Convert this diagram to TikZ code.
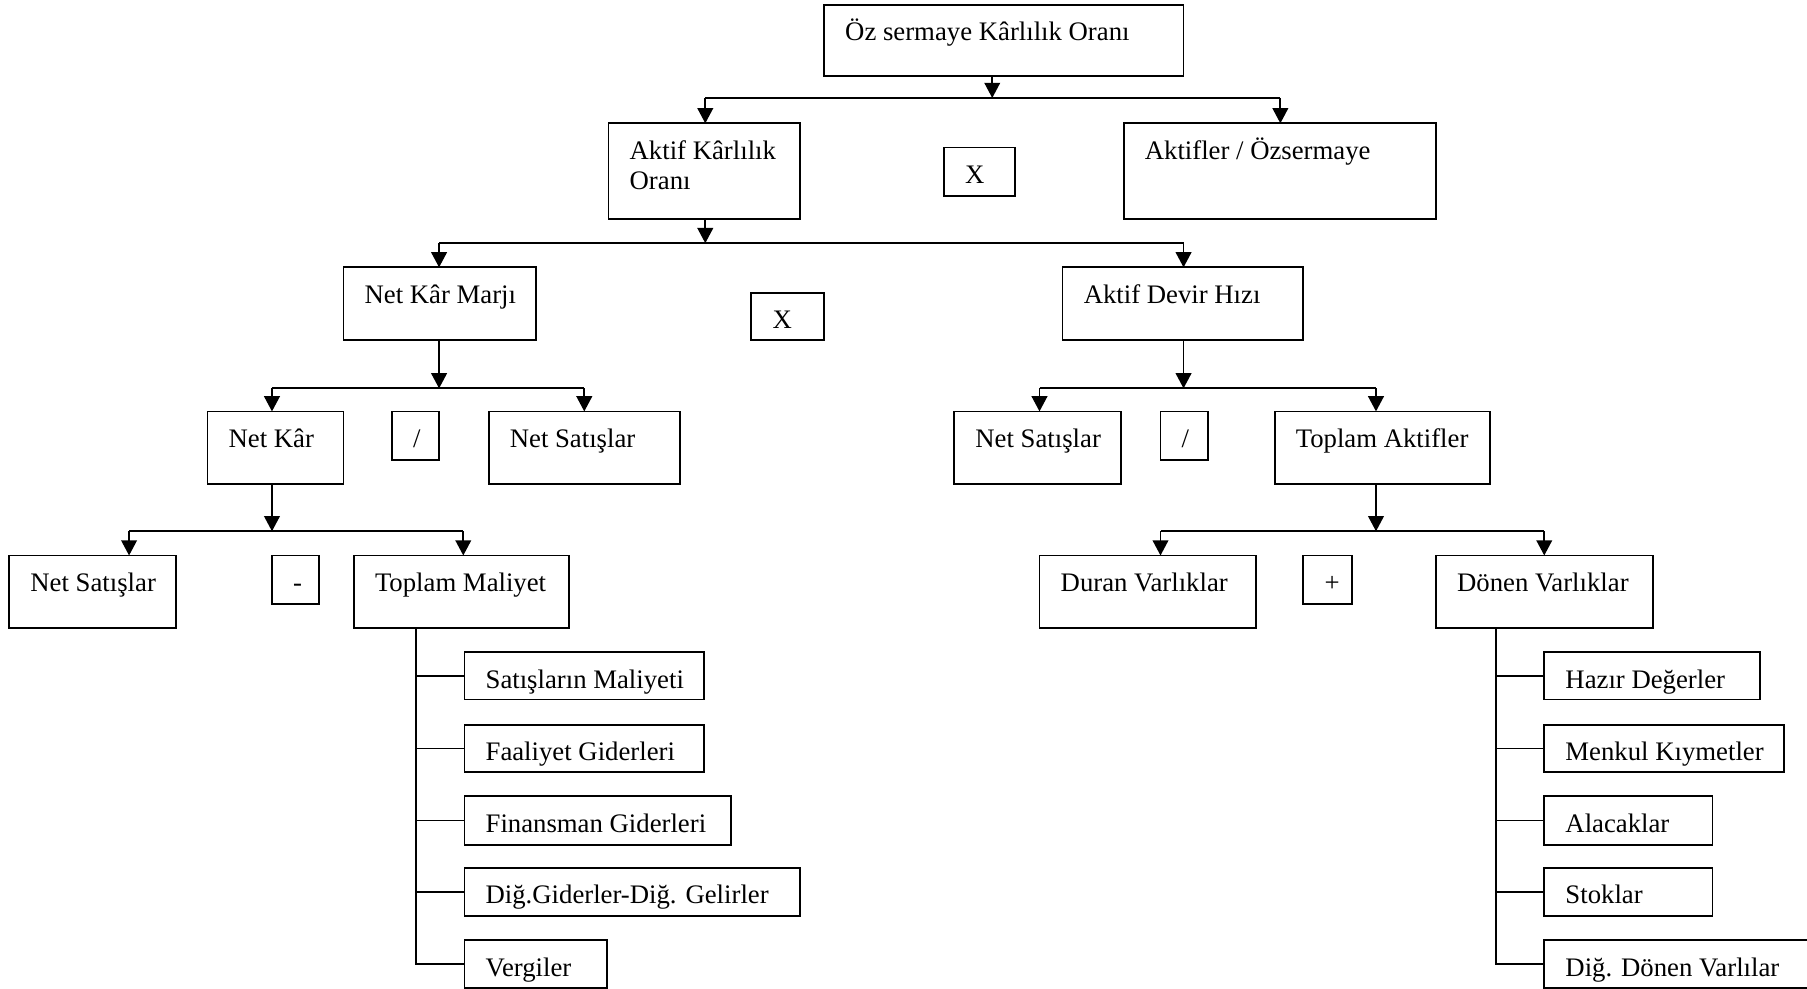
\documentclass[tikz,border=0pt]{standalone}
\usepackage{fontspec}
\setmainfont{Liberation Serif}
\usetikzlibrary{arrows.meta,calc}

% box: name, x1, y1, x2, y2 (y grows downward)
\newcommand\bx[5]{%
  \node[box,anchor=north west,minimum width={(#4-#2)*0.5pt},minimum height={(#5-#3)*0.5pt}] (#1) at (#2,#3) {};}
% label inside a box: name, box name, text
\newcommand\tx[3]{%
  \node[lbl] (#1) at ($(#2.north west)+(18,31)$) {#3};}

\begin{document}
\begin{tikzpicture}[x=0.5pt,y=-0.5pt,
  box/.style={draw,line width=0.8pt,inner sep=0pt,outer sep=0pt},
  lbl/.style={anchor=base west,inner sep=0pt,font=\fontsize{11.6}{13}\selectfont},
  link/.style={line width=0.8pt},
  arr/.style={line width=0.8pt,-{Triangle[length=6.6pt,width=6.8pt]}}]

\fill[white] (0,0) rectangle (1568,858);
\useasboundingbox (0,0) rectangle (1568,858);

% ---- level 0
\bx{oz}{715}{4}{1027}{66}
\tx{ozt}{oz}{Öz sermaye Kârlılık Oranı}

% ---- level 1
\bx{akt}{528}{107}{694}{190}
\tx{aktt}{akt}{Aktif Kârlılık}
\node[lbl] (aktt2) at ($(akt.north west)+(18,57)$) {Oranı};
\bx{op1}{819}{128}{881}{170}
\tx{op1t}{op1}{X}
\bx{aoz}{975}{107}{1246}{190}
\tx{aozt}{aoz}{Aktifler / Özsermaye}

% ---- level 2
\bx{nkm}{298}{232}{465}{295}
\tx{nkmt}{nkm}{Net Kâr Marjı}
\bx{op2}{652}{254}{715}{295}
\tx{op2t}{op2}{X}
\bx{adh}{922}{232}{1131}{295}
\tx{adht}{adh}{Aktif Devir Hızı}

% ---- level 3
\bx{nk}{180}{357}{298}{420}
\tx{nkt}{nk}{Net Kâr}
\bx{op3}{340}{357}{381}{399}
\tx{op3t}{op3}{/}
\bx{ns1}{424}{357}{590}{420}
\tx{ns1t}{ns1}{Net Satışlar}
\bx{ns2}{828}{357}{973}{420}
\tx{ns2t}{ns2}{Net Satışlar}
\bx{op4}{1007}{357}{1048}{399}
\tx{op4t}{op4}{/}
\bx{ta}{1106}{357}{1293}{420}
\tx{tat}{ta}{Toplam Aktifler}

% ---- level 4
\bx{ns3}{8}{482}{153}{545}
\tx{ns3t}{ns3}{Net Satışlar}
\bx{op5}{236}{482}{277}{524}
\tx{op5t}{op5}{-}
\bx{tm}{307}{482}{494}{545}
\tx{tmt}{tm}{Toplam Maliyet}
\bx{dur}{902}{482}{1090}{545}
\tx{durt}{dur}{Duran Varlıklar}
\bx{op6}{1131}{482}{1173}{524}
\tx{op6t}{op6}{+}
\bx{don}{1246}{482}{1434}{545}
\tx{dont}{don}{Dönen Varlıklar}

% ---- cost items
\bx{c1}{403}{566}{611}{607}
\tx{c1t}{c1}{Satışların Maliyeti}
\bx{c2}{403}{629}{611}{670}
\tx{c2t}{c2}{Faaliyet Giderleri}
\bx{c3}{403}{691}{634}{733}
\tx{c3t}{c3}{Finansman Giderleri}
\bx{c4}{403}{753}{694}{795}
\tx{c4t}{c4}{Diğ.Giderler-Diğ. Gelirler}
\bx{c5}{403}{816}{527}{857}
\tx{c5t}{c5}{Vergiler}

% ---- current asset items
\bx{d1}{1340}{566}{1527}{607}
\tx{d1t}{d1}{Hazır Değerler}
\bx{d2}{1340}{629}{1548}{670}
\tx{d2t}{d2}{Menkul Kıymetler}
\bx{d3}{1340}{691}{1486}{733}
\tx{d3t}{d3}{Alacaklar}
\bx{d4}{1340}{753}{1486}{795}
\tx{d4t}{d4}{Stoklar}
\bx{d5}{1340}{816}{1600}{857}
\tx{d5t}{d5}{Diğ. Dönen Varlılar}

% ---- connectors: level 0 -> 1
\coordinate (j0) at (861,85);
\coordinate (j0l) at (612,85);
\coordinate (j0r) at (1111,85);
\draw[arr] (j0 |- oz.south) -- (j0);
\draw[link] (j0l) -- (j0r);
\draw[arr] (j0l) -- (j0l |- akt.north);
\draw[arr] (j0r) -- (j0r |- aoz.north);

% level 1 -> 2
\coordinate (j1) at (612,211);
\coordinate (j1l) at (381,211);
\coordinate (j1r) at (1027,211);
\draw[arr] (j1 |- akt.south) -- (j1);
\draw[link] (j1l) -- (j1r);
\draw[arr] (j1l) -- (j1l |- nkm.north);
\draw[arr] (j1r) -- (j1r |- adh.north);

% level 2 -> 3 (left)
\coordinate (j2a) at (381,337);
\coordinate (j2al) at (236,337);
\coordinate (j2ar) at (507,337);
\draw[arr] (j2a |- nkm.south) -- (j2a);
\draw[link] (j2al) -- (j2ar);
\draw[arr] (j2al) -- (j2al |- nk.north);
\draw[arr] (j2ar) -- (j2ar |- ns1.north);

% level 2 -> 3 (right)
\coordinate (j2b) at (1027,337);
\coordinate (j2bl) at (902,337);
\coordinate (j2br) at (1194,337);
\draw[arr] (j2b |- adh.south) -- (j2b);
\draw[link] (j2bl) -- (j2br);
\draw[arr] (j2bl) -- (j2bl |- ns2.north);
\draw[arr] (j2br) -- (j2br |- ta.north);

% level 3 -> 4 (left)
\coordinate (j3a) at (236,461);
\coordinate (j3al) at (112,461);
\coordinate (j3ar) at (402,461);
\draw[arr] (j3a |- nk.south) -- (j3a);
\draw[link] (j3al) -- (j3ar);
\draw[arr] (j3al) -- (j3al |- ns3.north);
\draw[arr] (j3ar) -- (j3ar |- tm.north);

% level 3 -> 4 (right)
\coordinate (j3b) at (1194,461);
\coordinate (j3bl) at (1007,461);
\coordinate (j3br) at (1340,461);
\draw[arr] (j3b |- ta.south) -- (j3b);
\draw[link] (j3bl) -- (j3br);
\draw[arr] (j3bl) -- (j3bl |- dur.north);
\draw[arr] (j3br) -- (j3br |- don.north);

% item trees
\coordinate (tmv) at ($(tm.south west)+(54,0)$);
\foreach \n in {c1,c2,c3,c4,c5} \draw[link] (tmv) |- (\n.west);
\coordinate (donv) at ($(don.south west)+(52,0)$);
\foreach \n in {d1,d2,d3,d4,d5} \draw[link] (donv) |- (\n.west);

\end{tikzpicture}
\end{document}
